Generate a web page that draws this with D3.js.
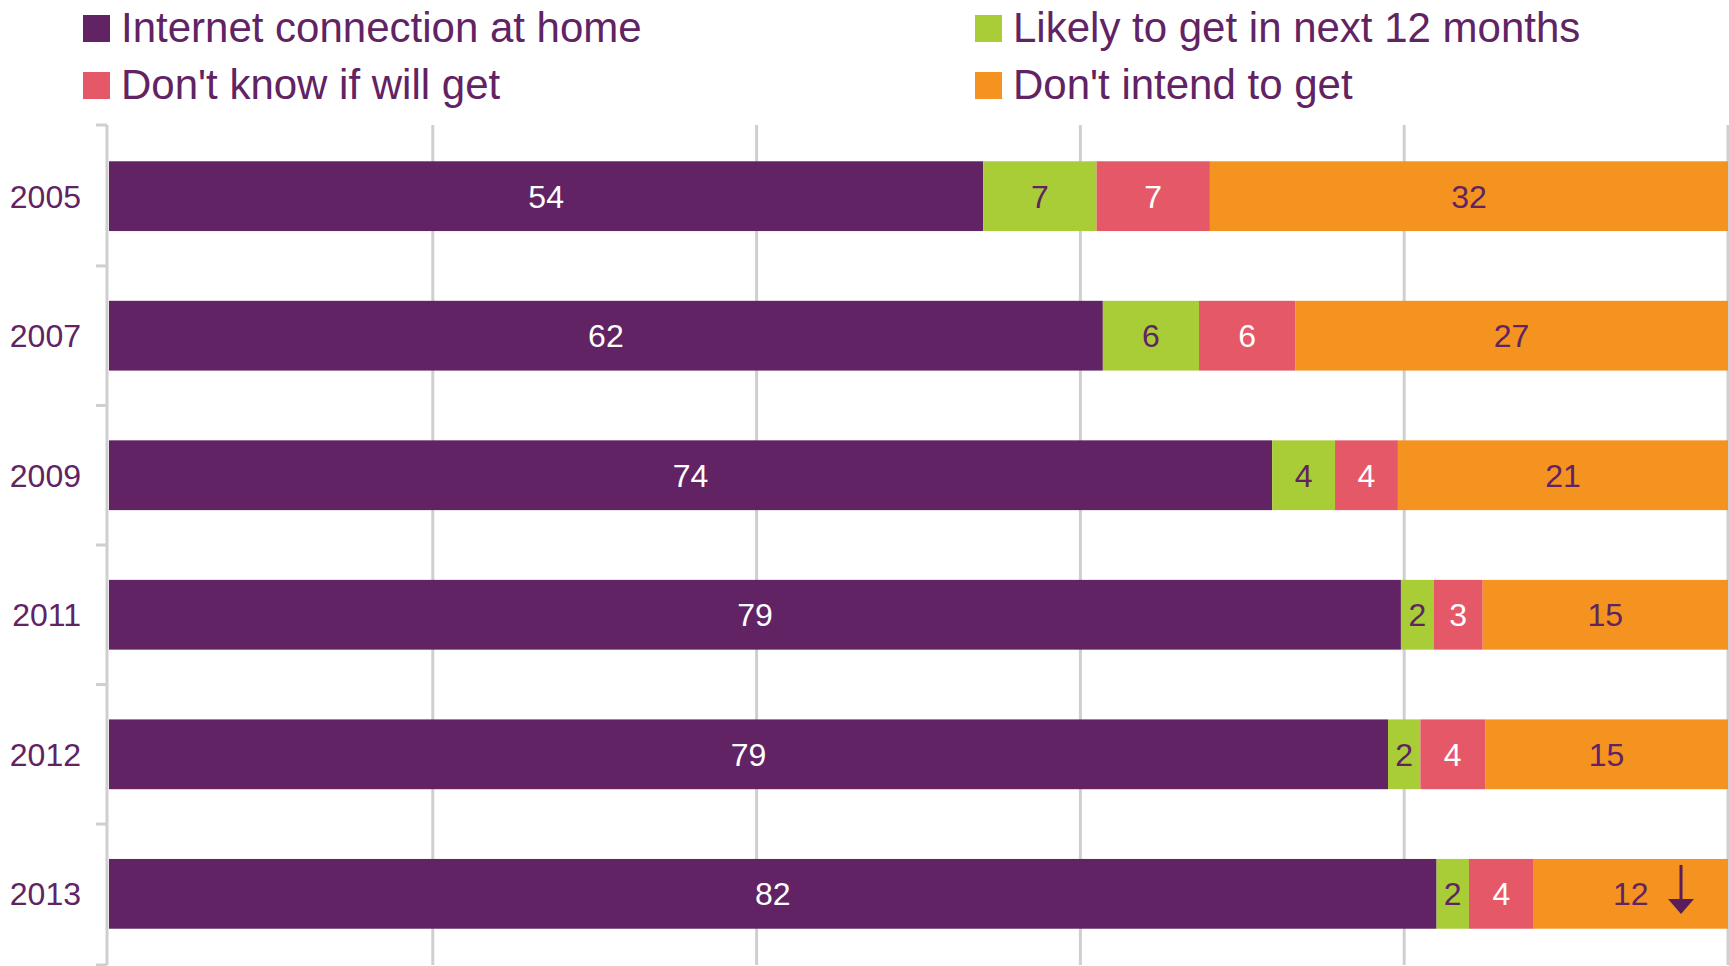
<!DOCTYPE html>
<html>
<head>
<meta charset="utf-8">
<script src="https://cdn.jsdelivr.net/npm/d3@7"></script>
<style>
  body { margin: 0; background: #fff; }
  svg text { font-family: "Liberation Sans", Arial, sans-serif; }
</style>
</head>
<body>
<svg id="chart" width="1729" height="966"></svg>
<script>
const years = ["2005", "2007", "2009", "2011", "2012", "2013"];
const series = ["Internet connection at home", "Likely to get in next 12 months",
                "Don't know if will get", "Don't intend to get"];
const keys = ["home", "likely", "dontknow", "dontintend"];
const home = [54, 62, 74, 79, 79, 82];
const likely = [7, 6, 4, 2, 2, 2];
const dontknow = [7, 6, 4, 3, 4, 4];
const dontintend = [32, 27, 21, 15, 15, 12];
const gridTicks = [20, 40, 60, 80, 100];

const colors = ["#612363", "#a8cd37", "#e55867", "#f4931f"];
const labelColors = ["#ffffff", "#612363", "#ffffff", "#612363"];
const textPurple = "#612363";

const svg = d3.select("svg");
const width = +svg.attr("width");
const height = +svg.attr("height");

const rows = years.map((y, i) => ({
    year: y, home: home[i], likely: likely[i], dontknow: dontknow[i], dontintend: dontintend[i]
}));

// each row is stretched to 100% like the original
const stacked = d3.stack().keys(keys).offset(d3.stackOffsetExpand)(rows);

const x = d3.scaleLinear().domain([0, 1]).range([109, 1728]);
const y = d3.scaleBand().domain(years).range([125, 965]).paddingInner(0.5).paddingOuter(0.26);

// gridlines
svg.append("g").attr("id", "grid")
    .selectAll("line")
    .data(gridTicks)
    .enter()
    .append("line")
    .attr("x1", d => x(d / 100))
    .attr("x2", d => x(d / 100))
    .attr("y1", 125)
    .attr("y2", 965)
    .attr("stroke", "#cfcfcf")
    .attr("stroke-width", 3);

// bars
const layers = svg.append("g").attr("id", "bars")
    .selectAll("g")
    .data(stacked)
    .enter()
    .append("g")
    .attr("fill", (d, i) => colors[i]);

layers.selectAll("rect")
    .data(d => d)
    .enter()
    .append("rect")
    .attr("x", d => x(d[0]))
    .attr("width", d => x(d[1]) - x(d[0]))
    .attr("y", d => y(d.data.year))
    .attr("height", y.bandwidth());

// value labels
stacked.forEach(function (layer, i) {
    svg.append("g")
        .selectAll("text")
        .data(layer)
        .enter()
        .append("text")
        .attr("x", d => (x(d[0]) + x(d[1])) / 2)
        .attr("y", d => y(d.data.year) + y.bandwidth() / 2)
        .attr("dy", "0.36em")
        .attr("text-anchor", "middle")
        .style("font-size", "32px")
        .attr("fill", labelColors[i])
        .text(d => d.data[layer.key]);
});

// left axis with ticks between categories
const axis = svg.append("g").attr("id", "axis");
axis.append("line")
    .attr("x1", 107).attr("x2", 107)
    .attr("y1", 125).attr("y2", 965)
    .attr("stroke", "#cfcfcf").attr("stroke-width", 3);
const bounds = years.map(d => y(d) - y.step() * y.paddingInner() / 2).concat([965]);
bounds[0] = 125;
axis.selectAll("line.tick")
    .data(bounds)
    .enter()
    .append("line")
    .attr("class", "tick")
    .attr("x1", 96).attr("x2", 107)
    .attr("y1", d => d).attr("y2", d => d)
    .attr("stroke", "#cfcfcf").attr("stroke-width", 3);

axis.selectAll("text")
    .data(years)
    .enter()
    .append("text")
    .attr("x", 81)
    .attr("y", d => y(d) + y.bandwidth() / 2)
    .attr("dy", "0.36em")
    .attr("text-anchor", "end")
    .style("font-size", "32px")
    .attr("fill", textPurple)
    .text(d => d);

// down arrow on 2013
const last = years[years.length - 1];
const ax = x(1) - 47;
const arrow = svg.append("g").attr("id", "arrow");
arrow.append("line")
    .attr("x1", ax).attr("x2", ax)
    .attr("y1", y(last) + 6).attr("y2", y(last) + 44)
    .attr("stroke", "#5a1d5b").attr("stroke-width", 3);
arrow.append("path")
    .attr("d", `M${ax - 13},${y(last) + 40} L${ax + 13},${y(last) + 40} L${ax},${y(last) + 55} Z`)
    .attr("fill", "#5a1d5b");

// legend
const legendPos = [[83, 15], [83, 72], [975, 15], [975, 72]];
const legendOrder = [0, 2, 1, 3];
const legend = svg.append("g").attr("id", "legend")
    .selectAll("g")
    .data(legendOrder)
    .enter()
    .append("g")
    .attr("transform", (d, i) => `translate(${legendPos[i][0]},${legendPos[i][1]})`);
legend.append("rect")
    .attr("width", 27).attr("height", 27)
    .attr("fill", d => colors[d]);
legend.append("text")
    .attr("x", 38)
    .attr("y", 27)
    .style("font-size", "42px")
    .attr("fill", textPurple)
    .text(d => series[d]);
</script>
</body>
</html>
